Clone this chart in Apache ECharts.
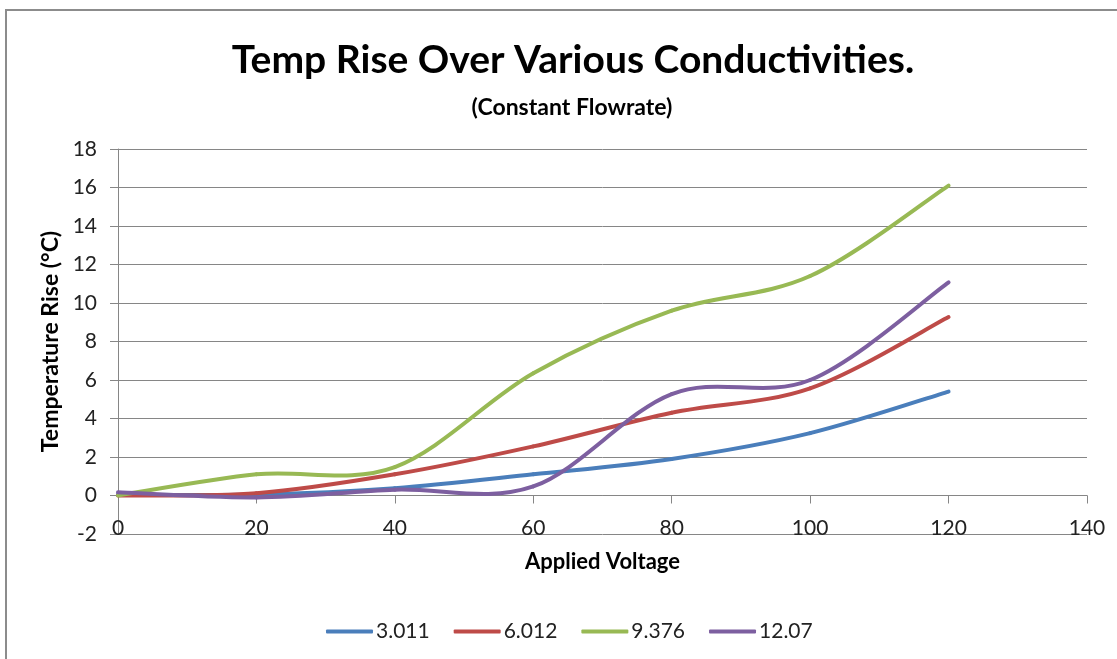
<!DOCTYPE html>
<html>
<head>
<meta charset="utf-8">
<script src="https://cdn.jsdelivr.net/npm/echarts@6/dist/echarts.min.js"></script>
<style>
html,body{margin:0;padding:0;background:#fff;}
#chart{width:1117px;height:659px;}
</style>
</head>
<body>
<div id="chart"></div>
<script>
var voltages = [0, 20, 40, 60, 80, 100, 120];
var seriesNames = ['3.011', '6.012', '9.376', '12.07'];
var s3011 = [0.05, 0.05, 0.38, 1.1, 1.9, 3.24, 5.4];
var s6012 = [0, 0.12, 1.1, 2.55, 4.3, 5.57, 9.27];
var s9376 = [0, 1.1, 1.48, 6.35, 9.6, 11.4, 16.1];
var s1207 = [0.17, -0.1, 0.3, 0.47, 5.27, 6.0, 11.07];
var colors = ['#4A7EBB', '#BE4B48', '#98B954', '#7D5FA0'];

var FONT = 'Lato';
var allData = [s3011, s6012, s9376, s1207];
function pairs(ys){ return voltages.map(function(x,i){ return [x, ys[i]]; }); }

// Excel-like smoothed line: uniform Catmull-Rom segments in screen space,
// each data item draws the segment to the next item via the axes' scales.
function makeRenderer(ys){
  return function(params, api){
    var i = params.dataIndex;
    var n = voltages.length;
    if (i >= n - 1) return null;
    function P(k){ k = Math.max(0, Math.min(n - 1, k)); return api.coord([voltages[k], ys[k]]); }
    var p0 = P(i - 1), p1 = P(i), p2 = P(i + 1), p3 = P(i + 2);
    var c1 = [p1[0] + (p2[0] - p0[0]) / 6, p1[1] + (p2[1] - p0[1]) / 6];
    var c2 = [p2[0] - (p3[0] - p1[0]) / 6, p2[1] - (p3[1] - p1[1]) / 6];
    return {
      type: 'bezierCurve',
      shape: {x1: p1[0], y1: p1[1], x2: p2[0], y2: p2[1],
              cpx1: c1[0], cpy1: c1[1], cpx2: c2[0], cpy2: c2[1]},
      style: {stroke: api.visual('color'), lineWidth: 4, fill: null, lineCap: 'round', lineJoin: 'round'},
      silent: true
    };
  };
}

var chart = echarts.init(document.getElementById('chart'), null, {renderer:'canvas'});
chart.setOption({
  animation: false,
  backgroundColor: '#fff',
  color: colors,
  title: [
    {text: 'Temp Rise Over Various Conductivities.', left: 568, top: 36, textAlign: 'center',
     textStyle: {fontFamily: FONT, fontWeight: 'bold', fontSize: 39, color: '#000'}},
    {text: '(Constant Flowrate)', left: 567, top: 91, textAlign: 'center',
     textStyle: {fontFamily: FONT, fontWeight: 'bold', fontSize: 23, color: '#000'}}
  ],
  graphic: [{type: 'rect', shape: {x: 6, y: 10, width: 1300, height: 800}, silent: true,
    style: {fill: 'none', stroke: '#8c8c8c', lineWidth: 2}}],
  legend: {
    bottom: 12, left: 321, itemWidth: 47, itemHeight: 4, itemGap: 24,
    textStyle: {fontFamily: FONT, fontSize: 21, color: '#222', padding: [0,0,0,-2]},
    data: seriesNames.map(function(n, i){ return {name: n, icon: 'roundRect', itemStyle: {color: colors[i]}}; })
  },
  grid: {left: 118, right: 30, top: 149, bottom: 125, containLabel: false},
  xAxis: {
    type: 'value', min: 0, max: 140, interval: 20, position: 'bottom', offset: -38.5,
    name: 'Applied Voltage', nameLocation: 'middle', nameGap: 55,
    nameTextStyle: {fontFamily: FONT, fontWeight: 'bold', fontSize: 22, color: '#000'},
    axisLine: {show: true, onZero: false, lineStyle: {color: '#868686', width: 1}},
    axisTick: {show: true, length: 8, lineStyle: {color: '#868686'}},
    axisLabel: {fontFamily: FONT, fontSize: 21, color: '#222', margin: 22},
    splitLine: {show: false}
  },
  yAxis: {
    type: 'value', min: -2, max: 18, interval: 2,
    name: 'Temperature Rise (°C)', nameLocation: 'middle', nameGap: 54,
    nameTextStyle: {fontFamily: FONT, fontWeight: 'bold', fontSize: 23, color: '#000'},
    axisLine: {show: true, onZero: false, lineStyle: {color: '#868686', width: 1}},
    axisTick: {show: true, length: 8, lineStyle: {color: '#868686'}},
    axisLabel: {fontFamily: FONT, fontSize: 21, color: '#222', margin: 21},
    splitLine: {show: true, lineStyle: {color: '#868686', width: 1}}
  },
  series: seriesNames.map(function(n, i){
    return {
      name: n, type: 'custom', coordinateSystem: 'cartesian2d',
      data: pairs(allData[i]),
      encode: {x: 0, y: 1},
      itemStyle: {color: colors[i]},
      renderItem: makeRenderer(allData[i])
    };
  })
});
</script>
</body>
</html>
